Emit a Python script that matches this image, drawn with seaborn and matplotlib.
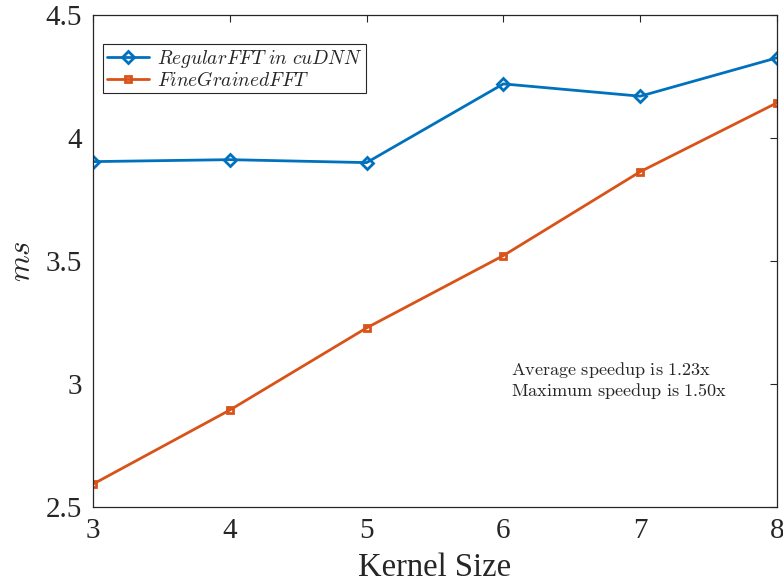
import numpy as np
import pandas as pd
import matplotlib
matplotlib.use("Agg")
import matplotlib.pyplot as plt
import seaborn as sns

# -- Données
kernel_size = [3, 4, 5, 6, 7, 8]
regular_fft = [3.904, 3.912, 3.900, 4.220, 4.170, 4.326]
fine_fft = [2.593, 2.894, 3.228, 3.522, 3.863, 4.143]
x_ticks = [3, 4, 5, 6, 7, 8]
y_ticks = [2.5, 3, 3.5, 4, 4.5]
y_tick_labels = ["2.5", "3", "3.5", "4", "4.5"]
notes = ["Average speedup is 1.23x", "Maximum speedup is 1.50x"]

sns.set_style("white")
plt.rcParams["font.family"] = ["Liberation Serif", "DejaVu Serif"]
plt.rcParams["mathtext.fontset"] = "cm"

fig = plt.figure(figsize=(7.83, 5.82), dpi=100)
ax = fig.add_axes([0.1188, 0.1289, 0.8735, 0.8453])

sns.lineplot(x=kernel_size, y=regular_fft, ax=ax, color="#0072BD", lw=2,
             marker="D", markersize=6, markerfacecolor="none",
             markeredgecolor="#0072BD", markeredgewidth=2,
             label=r"$RegularFFT\ in\ cuDNN$")
sns.lineplot(x=kernel_size, y=fine_fft, ax=ax, color="#D95319", lw=2,
             marker="s", markersize=5, markerfacecolor="none",
             markeredgecolor="#D95319", markeredgewidth=2,
             label=r"$FineGrainedFFT$")

ax.set_xlim(3, 8)
ax.set_ylim(2.5, 4.5)
ax.set_xticks(x_ticks)
ax.set_yticks(y_ticks)
ax.set_yticklabels(y_tick_labels)
ax.tick_params(direction="in", length=5, width=0.8, colors="#262626",
               labelsize=21, top=True, right=True, pad=8)
for sp in ax.spines.values():
    sp.set_color("#262626")
    sp.set_linewidth(0.9)

ax.set_xlabel("Kernel Size", fontsize=23.5, color="#262626", labelpad=6)
ax.set_ylabel(r"$ms$", fontsize=22, color="#262626", labelpad=6)

leg = ax.legend(loc="upper left", bbox_to_anchor=(0.0146, 0.941),
                fontsize=14, frameon=True, fancybox=False, framealpha=1,
                edgecolor="#262626", borderaxespad=0, handlelength=2.2,
                handletextpad=0.4, labelspacing=0.05, borderpad=0.18)
leg.get_frame().set_linewidth(0.8)

# -- Texte des speedups
for yy, txt in zip([3.057, 2.972], notes):
    ax.text(6.055, yy, "$\\mathrm{" + txt.replace(" ", "\\ ") + "}$",
            fontsize=13.1, ha="left", va="center")

fig.savefig("out.png", dpi=100)
